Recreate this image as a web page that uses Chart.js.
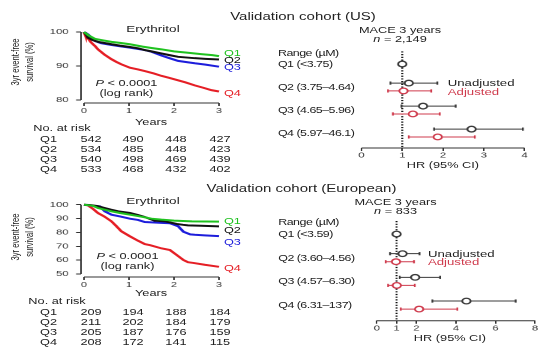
<!DOCTYPE html>
<html><head><meta charset="utf-8">
<script src="https://cdn.jsdelivr.net/npm/chart.js@4"></script>
<style>
html,body{margin:0;padding:0;background:#fff;overflow:hidden;width:559px;height:357px}
#stage{position:absolute;left:0;top:0;width:372.667px;height:357px;transform:scaleX(1.5);transform-origin:0 0;font-family:"Liberation Sans",Arial,sans-serif;color:#222}
.t{position:absolute;white-space:nowrap;line-height:1}
canvas{position:absolute}
</style></head><body><div id="stage"></div>
<script>
// ---------------- DATA ----------------
const quartiles = ['Q1', 'Q2', 'Q3', 'Q4'];
const yearTicks = [0, 1, 2, 3];

// Kaplan-Meier curves, US cohort: [years, survival %]
const usQ1 = [[0,100],[0.05,99.5],[0.1,99],[0.24,98.0],[0.4,97.6],[0.61,97.1],[0.8,96.8],[1.02,96.4],[1.3,95.7],[1.5,95.3],[1.72,94.9],[2.0,94.3],[2.31,93.9],[2.6,93.5],[2.85,93.2],[3,92.9]];
const usQ2 = [[0,100],[0.05,99.2],[0.09,98.3],[0.2,97.6],[0.31,97.1],[0.61,96.4],[0.8,96.0],[1.02,95.6],[1.2,95.2],[1.35,94.7],[1.5,94.3],[1.72,93.7],[1.9,93.2],[2.09,92.7],[2.46,92.3],[2.7,92.1],[3,91.9]];
const usQ3 = [[0,100],[0.09,99.3],[0.15,98.5],[0.24,97.4],[0.38,96.7],[0.6,96.2],[0.8,95.8],[1.02,95.4],[1.35,94.7],[1.5,94.2],[1.72,93.1],[1.9,92.3],[2.09,91.5],[2.3,91.1],[2.46,90.8],[2.7,90.4],[3,89.8]];
const usQ4 = [[0,100],[0.03,99],[0.08,98.3],[0.16,96.9],[0.25,95.8],[0.31,94.9],[0.45,93.4],[0.61,92.0],[0.72,91.2],[0.83,90.5],[1.02,89.5],[1.2,89.0],[1.35,88.5],[1.55,87.8],[1.72,87.1],[1.9,86.5],[2.09,85.8],[2.25,85.2],[2.46,84.3],[2.65,83.6],[2.83,82.9],[3,82.5]];

// Kaplan-Meier curves, European cohort
const euQ1 = [[0,100],[0.2,99.2],[0.31,97.6],[0.45,96.5],[0.61,95.2],[0.8,94.0],[1.02,92.8],[1.2,91.8],[1.35,90.9],[1.5,89.9],[1.72,89.2],[2.0,88.5],[2.4,88.0],[3,87.8]];
const euQ2 = [[0,100],[0.15,99.7],[0.3,99.0],[0.46,97.6],[0.6,96.4],[0.76,95.2],[1.02,94.0],[1.2,92.5],[1.35,91.1],[1.57,88.5],[1.8,88.0],[2.06,86.1],[2.2,85.5],[2.31,85.1],[2.6,84.8],[3,84.4]];
const euQ3 = [[0,100],[0.25,99.0],[0.35,98.8],[0.46,95.2],[0.61,92.8],[0.8,91.5],[1.02,89.9],[1.2,89.0],[1.35,87.5],[1.72,86.9],[1.91,86.6],[2.09,84.5],[2.21,80.5],[2.36,78.6],[2.46,78.3],[2.68,77.9],[3,77.3]];
const euQ4 = [[0,100],[0.09,99.5],[0.2,97],[0.31,94.0],[0.45,91.5],[0.61,88.0],[0.72,84.5],[0.83,80.8],[1.02,77.2],[1.2,74.0],[1.35,71.6],[1.47,70.8],[1.72,68.5],[1.91,67.3],[2.06,63.7],[2.21,60.1],[2.31,58.5],[2.43,58.0],[2.68,56.7],[3,55.2]];

// Numbers at risk
const usAtRisk = [[542,490,448,427],[534,485,448,423],[540,498,469,439],[533,468,432,402]];
const euAtRisk = [[209,194,188,184],[211,202,184,179],[205,187,176,159],[208,172,141,115]];

// Forest plots (HR, 95% CI)
const usRanges = ['Q1 (<3.75)', 'Q2 (3.75–4.64)', 'Q3 (4.65–5.96)', 'Q4 (5.97–46.1)'];
const usUnadjHR = [1.00, 1.16, 1.51, 2.70];
const usUnadjLo = [null, 0.71, 0.98, 1.78];
const usUnadjHi = [null, 1.86, 2.31, 3.96];
const usAdjHR = [null, 1.03, 1.26, 1.87];
const usAdjLo = [null, 0.65, 0.77, 1.16];
const usAdjHi = [null, 1.71, 1.92, 2.78];
const usHRTicks = [0, 1, 2, 3, 4];

const euRanges = ['Q1 (<3.59)', 'Q2 (3.60–4.56)', 'Q3 (4.57–6.30)', 'Q4 (6.31–137)'];
const euUnadjHR = [1.00, 1.30, 1.94, 4.53];
const euUnadjLo = [null, 0.67, 1.16, 2.81];
const euUnadjHi = [null, 2.16, 3.20, 7.02];
const euAdjHR = [null, 0.97, 1.01, 2.14];
const euAdjLo = [null, 0.45, 0.57, 1.21];
const euAdjHi = [null, 1.88, 1.92, 4.07];
const euHRTicks = [0, 1, 2, 4, 6, 8];

// ---------------- STYLE ----------------
const kmColors = ['#1fc21f', '#111111', '#1d1ddb', '#e51e25'];
const unadjColor = '#3a3a3a';
const adjColor = '#cf3a4c';
const FONT = '"Liberation Sans", Arial, sans-serif';
Chart.defaults.font.family = FONT;
Chart.defaults.color = '#333';
Chart.defaults.animation = false;

const stage = document.getElementById('stage');
function txt(s, x, y, o = {}) {
  const d = document.createElement('div');
  d.className = 't';
  if (o.html) d.innerHTML = s; else d.textContent = s;
  d.style.fontSize = (o.size || 8.5) + 'px';
  d.style.color = o.color || '#222';
  d.style.left = x + 'px';
  d.style.top = y + 'px';
  if (o.ls) d.style.letterSpacing = o.ls + 'px';
  d.style.transform = (o.align === 'left') ? 'translateY(-50%)' : 'translate(-50%,-50%)';
  if (o.rot) { d.style.transform = 'translate(-50%,-50%) rotate(-90deg)'; d.style.textAlign = 'center'; d.style.lineHeight = o.lh + 'px'; }
  stage.appendChild(d);
  return d;
}
function mkCanvas(l, t, w, h) {
  const c = document.createElement('canvas');
  c.width = w; c.height = h;
  c.style.left = l + 'px'; c.style.top = t + 'px';
  c.style.width = w + 'px'; c.style.height = h + 'px';
  stage.appendChild(c);
  return c;
}

// draws axis lines only between given values (offset axes look)
const offsetAxes = {
  id: 'offsetAxes',
  afterDraw(chart, args, o) {
    const ctx = chart.ctx, ca = chart.chartArea;
    ctx.save();
    ctx.strokeStyle = '#333';
    ctx.lineWidth = 1;
    if (o.x) {
      const xs = chart.scales.x;
      ctx.beginPath();
      ctx.moveTo(xs.getPixelForValue(o.x[0]), ca.bottom);
      ctx.lineTo(xs.getPixelForValue(o.x[1]), ca.bottom);
      ctx.stroke();
    }
    if (o.y) {
      const ys = chart.scales.y;
      ctx.beginPath();
      ctx.moveTo(ca.left, ys.getPixelForValue(o.y[0]));
      ctx.lineTo(ca.left, ys.getPixelForValue(o.y[1]));
      ctx.stroke();
    }
    ctx.restore();
  }
};

function kmChart(g) {
  const c = mkCanvas(g.left, g.top, g.w, g.h);
  return new Chart(c, {
    type: 'scatter',
    data: {
      datasets: g.curves.map((cv, i) => ({
        data: cv.map(p => ({ x: p[0], y: p[1] })),
        showLine: true, borderColor: kmColors[i], borderWidth: 2,
        pointRadius: 0, tension: 0, clip: false
      }))
    },
    options: {
      responsive: false, devicePixelRatio: 2,
      layout: { autoPadding: false, padding: { top: g.padTop, right: g.padRight, left: 0, bottom: 0 } },
      plugins: { legend: { display: false }, tooltip: { enabled: false },
        offsetAxes: { x: [yearTicks[0], yearTicks[yearTicks.length - 1]], y: [g.yTicks[0], g.yTicks[g.yTicks.length - 1]] } },
      scales: {
        x: {
          type: 'linear', min: g.xMin, max: 3,
          afterBuildTicks: s => { s.ticks = yearTicks.map(v => ({ value: v })); },
          afterFit: s => { s.height = g.xH; },
          grid: { display: true, drawOnChartArea: false, tickLength: 3, color: '#333' },
          border: { display: false },
          ticks: { font: { size: 7.5 }, padding: 0.5, color: '#333', maxRotation: 0 }
        },
        y: {
          type: 'linear', min: g.yMin, max: g.yMax,
          afterBuildTicks: s => { s.ticks = g.yTicks.map(v => ({ value: v })); },
          afterFit: s => { s.width = g.yW; },
          grid: { display: true, drawOnChartArea: false, tickLength: 3.3, color: '#333' },
          border: { display: false },
          ticks: { font: { size: 7.5 }, padding: 5, color: '#333' }
        }
      }
    },
    plugins: [offsetAxes]
  });
}

function forestChart(g) {
  const c = mkCanvas(g.left, g.top, g.w, g.h);
  const uOff = -0.17, aOff = 0.17;
  const ds = [];
  // reference dotted line at HR = 1
  ds.push({ data: [{ x: 1, y: g.yMin }, { x: 1, y: g.yMax }], showLine: true, borderColor: '#111',
    borderWidth: 1.3, borderDash: [1.2, 1.5], pointRadius: 0, order: 5, clip: false });
  const arms = [
    { hr: g.uHR, lo: g.uLo, hi: g.uHi, col: unadjColor, off: uOff },
    { hr: g.aHR, lo: g.aLo, hi: g.aHi, col: adjColor, off: aOff }
  ];
  arms.forEach(a => {
    a.hr.forEach((v, i) => {
      if (a.lo[i] == null) return;
      const y = i + a.off;
      ds.push({ data: [{ x: a.lo[i], y }, { x: a.hi[i], y }], showLine: true, borderColor: a.col,
        borderWidth: 1, pointStyle: 'line', pointRotation: 90, pointRadius: 1.6,
        pointBorderColor: a.col, pointBorderWidth: 1.2, order: 3, clip: false });
    });
    const pts = [];
    a.hr.forEach((v, i) => { if (v != null) pts.push({ x: v, y: a.lo[i] == null ? i : i + a.off }); });
    ds.push({ data: pts, showLine: false, pointStyle: 'circle', pointRadius: 2.8,
      pointBackgroundColor: '#fff', pointBorderColor: a.col, pointBorderWidth: 1.3, order: 1, clip: false });
  });
  const chart = new Chart(c, {
    type: 'scatter',
    data: { datasets: ds },
    options: {
      responsive: false, devicePixelRatio: 2,
      layout: { autoPadding: false, padding: { top: g.padTop, right: g.padRight, left: 0, bottom: 0 } },
      plugins: { legend: { display: false }, tooltip: { enabled: false },
        offsetAxes: { x: [g.xTicks[0], g.xTicks[g.xTicks.length - 1]] } },
      scales: {
        x: {
          type: 'linear', min: g.xTicks[0], max: g.xTicks[g.xTicks.length - 1],
          afterBuildTicks: s => { s.ticks = g.xTicks.map(v => ({ value: v })); },
          afterFit: s => { s.height = g.xH; },
          grid: { display: true, drawOnChartArea: false, tickLength: 3, color: '#333' },
          border: { display: false },
          ticks: { font: { size: 7.5 }, padding: 0, color: '#333', maxRotation: 0, autoSkip: false }
        },
        y: {
          type: 'linear', reverse: true, min: g.yMin, max: g.yMax,
          afterFit: s => { s.width = g.yW; },
          grid: { display: false },
          border: { display: false },
          ticks: { display: false }
        }
      }
    },
    plugins: [offsetAxes]
  });
  // row labels placed through the chart's own y scale
  const ys = chart.scales.y;
  const labels = ['Range (µM)'].concat(g.ranges);
  [-0.5, 0, 1, 2, 3].forEach((v, i) => {
    txt(labels[i], g.left, g.top + ys.getPixelForValue(v), { size: 8.3, align: 'left', ls: -0.35 });
  });
  return chart;
}

// ---------------- LAYOUT (design coords, stage is stretched 1.5x horizontally) ----------------
const riskCols = [60.7, 88.7, 117.3, 146.7];

function panel(p) {
  txt(p.title, p.titleX, p.titleY, { size: 10 });
  txt('Erythritol', 102, p.y0 + 9, { size: 9 });
  txt('3yr event-free<br>survival (%)', 14.7, p.yTitleY, { size: 7.6, rot: true, lh: 9.3, html: true });
  kmChart({ left: 0, top: p.y0, w: 150, h: p.kmH, padTop: p.kmPadTop, padRight: 4, yW: 54, xH: 17,
    xMin: -0.0667, yMin: p.yMin, yMax: 100, yTicks: p.yTicks, curves: p.curves });
  txt('Years', 100.7, p.yearsY, { size: 8.5 });
  quartiles.forEach((q, i) => txt(q, 149.3, p.legY[i], { size: 8.5, align: 'left', color: kmColors[i] }));
  txt('<i>P</i> &lt; 0.0001', p.pX, p.pY, { size: 8.5, html: true });
  txt('(log rank)', p.pX, p.pY + 9.5, { size: 8.5 });
  txt('No. at risk', p.riskX, p.riskY, { size: 8.5, align: 'left' });
  quartiles.forEach((q, i) => {
    const y = p.riskY + 11 + i * 10;
    txt(q, 26.7, y, { size: 8.5, align: 'left' });
    p.risk[i].forEach((n, j) => txt(String(n), riskCols[j], y, { size: 8.5 }));
  });
  // forest
  txt('MACE 3 years', p.fX, p.y0 + 10, { size: 8.5 });
  txt('<i>n</i> = ' + p.n, p.fX, p.y0 + 18.5, { size: 8.5, html: true });
  forestChart(p.forest);
  txt('Unadjusted', p.uX, p.uY, { size: 8.8, align: 'left', color: '#222' });
  txt('Adjusted', p.uX, p.uY + 8.5, { size: 8.8, align: 'left', color: adjColor });
  txt('HR (95% CI)', p.hrX, p.hrY, { size: 8.5 });
}

panel({
  title: 'Validation cohort (US)', titleX: 202, titleY: 17, y0: 20, yTitleY: 62,
  kmH: 100, kmPadTop: 12, yMin: 79.118, yTicks: [80, 90, 100], curves: [usQ1, usQ2, usQ3, usQ4],
  yearsY: 122, legY: [53, 60, 67, 93], pX: 84.3, pY: 83, riskX: 22.2, riskY: 128, risk: usAtRisk,
  fX: 266.7, n: '2,149', uX: 298.5, uY: 83, hrX: 295.3, hrY: 165,
  forest: { left: 185.3, top: 40, w: 173, h: 122, padTop: 11.35, padRight: 8.3, yW: 56, xH: 14,
    yMin: -0.55, yMax: 3.65, xTicks: usHRTicks, ranges: usRanges,
    uHR: usUnadjHR, uLo: usUnadjLo, uHi: usUnadjHi, aHR: usAdjHR, aLo: usAdjLo, aHi: usAdjHi }
});

panel({
  title: 'Validation cohort (European)', titleX: 201, titleY: 189, y0: 192, yTitleY: 237,
  kmH: 102, kmPadTop: 12.7, yMin: 47.84, yTicks: [50, 60, 70, 80, 90, 100], curves: [euQ1, euQ2, euQ3, euQ4],
  yearsY: 293, legY: [221, 230, 242, 268], pX: 85, pY: 256, riskX: 18.9, riskY: 301, risk: euAtRisk,
  fX: 263.7, n: '833', uX: 285.3, uY: 253.7, hrX: 300, hrY: 338,
  forest: { left: 185.5, top: 210, w: 179, h: 124, padTop: 11, padRight: 8.3, yW: 65.2, xH: 13.3,
    yMin: -0.55, yMax: 3.66, xTicks: euHRTicks, ranges: euRanges,
    uHR: euUnadjHR, uLo: euUnadjLo, uHi: euUnadjHi, aHR: euAdjHR, aLo: euAdjLo, aHi: euAdjHi }
});
</script>
</body></html>
